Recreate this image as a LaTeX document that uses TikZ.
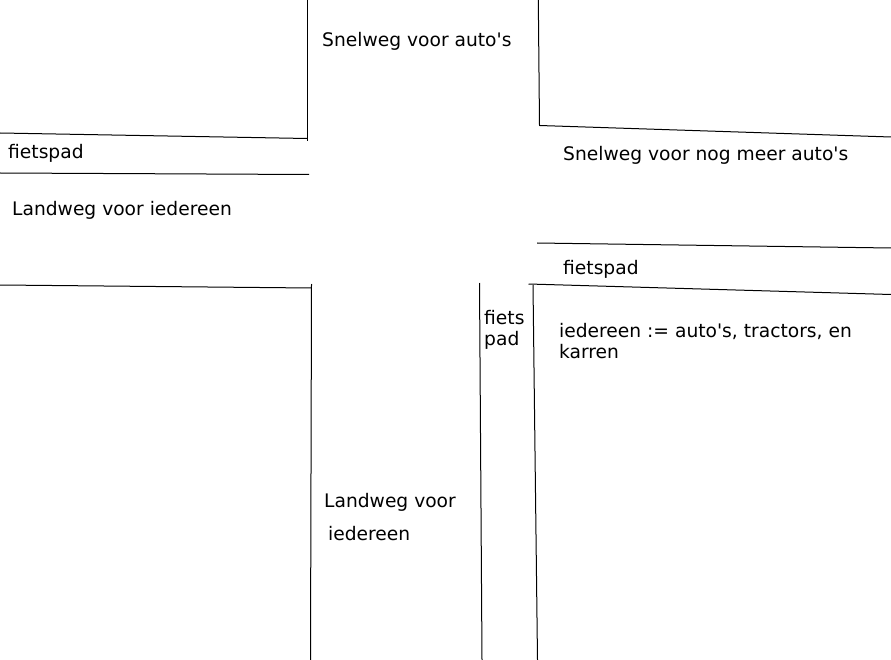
\documentclass[tikz,border=0pt]{standalone}
\usepackage{fontspec}
\setmainfont{DejaVu Sans}[Ligatures=TeXOff]
\begin{document}
\begin{tikzpicture}[x=1pt,y=-1pt,
  road/.style={draw=black,line width=1pt},
  lbl/.style={anchor=base west,inner sep=0pt,font=\fontsize{18.67}{21.7}\selectfont}]
\useasboundingbox[fill=white] (0,0) rectangle (891,660);
% top-left block
\draw[road] (307,0) -- (307,141);
\draw[road] (0,133) -- (307,138.5);
\draw[road] (0,173) -- (309,174.5);
% bottom-left block
\draw[road] (0,285) -- (311.5,288);
\draw[road] (311.5,284) -- (310.5,660);
% top-right block
\draw[road] (538.3,0) -- (539.5,125.5) -- (891,137);
% right roads
\draw[road] (537,243) -- (891,248);
\draw[road] (528.5,284) -- (891,294.5);
% bottom verticals
\draw[road] (479.5,283) -- (482,660);
\draw[road] (533,285) -- (537.5,660);
% labels
\node[lbl] (t1) at (322,47) {Snelweg voor auto's};
\node[lbl] (t2) at (8,158.5) {fietspad};
\node[lbl] (t3) at (12,216) {Landweg voor iedereen};
\node[lbl] (t4) at (563,161) {Snelweg voor nog meer auto's};
\node[lbl] (t5) at (563,275) {fietspad};
\node[lbl] (t6) at (484,324) {fiets};
\node[lbl] (t7) at (484,345.5) {pad};
\node[lbl] (t8) at (559,337) {iedereen := auto's, tractors, en};
\node[lbl] (t9) at (559,358.5) {karren};
\node[lbl] (t10) at (324,507) {Landweg voor};
\node[lbl] (t11) at (328,540) {iedereen};
\end{tikzpicture}
\end{document}
